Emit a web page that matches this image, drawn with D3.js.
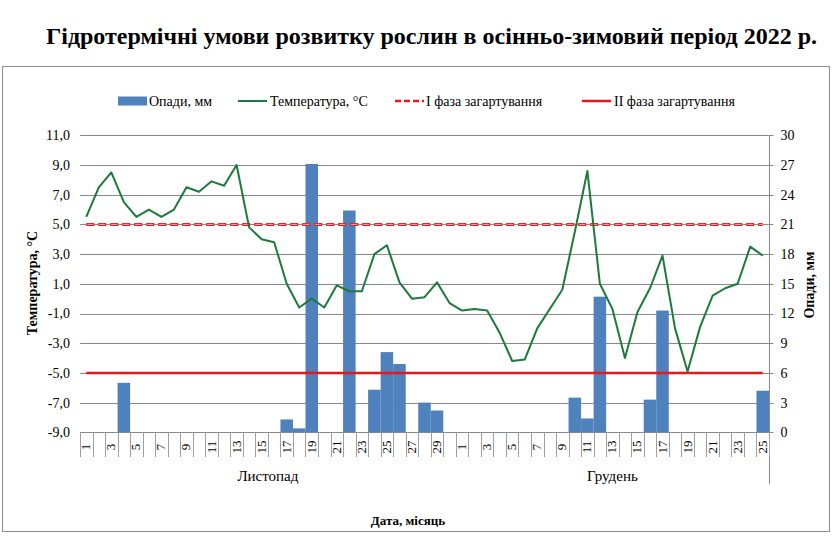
<!DOCTYPE html>
<html>
<head>
<meta charset="utf-8">
<script src="https://cdn.jsdelivr.net/npm/d3@7"></script>
<style>
  html, body { margin: 0; padding: 0; background: #fff; }
  svg, svg text { font-family: "Liberation Serif", "Times New Roman", Tinos, "DejaVu Serif", serif; }
</style>
</head>
<body>
<svg id="chart" width="836" height="540" font-family="Liberation Serif, Times New Roman, DejaVu Serif, serif"></svg>
<script>
// ---- data ----
const months = ["Листопад", "Грудень"];
const novDays = ["1","2","3","4","5","6","7","8","9","10","11","12","13","14","15","16","17","18","19","20","21","22","23","24","25","26","27","28","29","30"];
const decDays = ["1","2","3","4","5","6","7","8","9","10","11","12","13","14","15","16","17","18","19","20","21","22","23","24","25"];
const temperature = [5.5, 7.5, 8.5, 6.5, 5.5, 6.0, 5.5, 6.0, 7.5, 7.2,
                     7.9, 7.6, 9.0, 4.8, 4.0, 3.8, 1.0, -0.6, 0.0, -0.6,
                     0.9, 0.5, 0.5, 3.0, 3.6, 1.1, 0.0, 0.1, 1.1, -0.3,
                     -0.8, -0.7, -0.8, -2.3, -4.2, -4.1, -2.0, -0.7, 0.6, 4.5,
                     8.6, 1.0, -0.7, -4.0, -0.9, 0.7, 2.9, -2.0, -4.9, -1.9,
                     0.2, 0.7, 1.0, 3.5, 2.9];
const precipitation = [0, 0, 0, 5.0, 0, 0, 0, 0, 0, 0,
                       0, 0, 0, 0, 0, 0, 1.3, 0.4, 27.1, 0,
                       0, 22.4, 0, 4.3, 8.1, 6.9, 0, 3.0, 2.2, 0,
                       0, 0, 0, 0, 0, 0, 0, 0, 0, 3.5,
                       1.4, 13.7, 0, 0, 0, 3.3, 12.3, 0, 0, 0,
                       0, 0, 0, 0, 4.2];
const phase1 = 5;    // І фаза загартування, °C
const phase2 = -5;   // ІІ фаза загартування, °C
const tempTicks = [-9, -7, -5, -3, -1, 1, 3, 5, 7, 9, 11];
const precTicks = [0, 3, 6, 9, 12, 15, 18, 21, 24, 27, 30];
const legendLabels = ["Опади, мм", "Температура, °С", "І фаза загартування", "ІІ фаза загартування"];

// ---- layout ----
const svg = d3.select("#chart");
const FONT = "'Liberation Serif', 'Times New Roman', 'DejaVu Serif', serif";
const L = 80, R = 769, T = 135.3, B = 432.3;
const BLUE = "#4F81BD", GREEN = "#1C7A3C", RED = "#E4191C";

const labels = novDays.map(d => ({m: 0, d})).concat(decDays.map(d => ({m: 1, d})));
const idx = d3.range(labels.length);

const x = d3.scaleBand().domain(idx).range([L, R]).padding(0);
const yT = d3.scaleLinear().domain([-9, 11]).range([B, T]);
const yP = d3.scaleLinear().domain([0, 30]).range([B, T]);

// frame
svg.append("rect").attr("x", 2.5).attr("y", 66.5).attr("width", 827).attr("height", 465)
  .attr("fill", "none").attr("stroke", "#8c8c8c").attr("stroke-width", 1);

// title
svg.append("text").attr("x", 431.5).attr("y", 44).attr("text-anchor", "middle")
  .attr("font-size", 24).attr("font-weight", "bold").attr("fill", "#000")
  .text("Гідротермічні умови розвитку рослин в осінньо-зимовий період 2022 р.");

// gridlines
svg.append("g").selectAll("line").data(tempTicks).join("line")
  .attr("x1", L).attr("x2", R)
  .attr("y1", d => Math.round(yT(d)) + 0.5).attr("y2", d => Math.round(yT(d)) + 0.5)
  .attr("stroke", "#8a8a8a").attr("stroke-width", 1);

// left axis labels
svg.append("g").selectAll("text").data(tempTicks).join("text")
  .attr("x", 70).attr("y", d => yT(d)).attr("dy", "0.35em").attr("text-anchor", "end")
  .attr("font-size", 14).text(d => d3.format(".1f")(d).replace(".", ",").replace("−", "-"));

// right axis
const rg = svg.append("g").attr("transform", `translate(${R + 0.5},0)`);
rg.append("line").attr("y1", T).attr("y2", B).attr("stroke", "#8a8a8a");
rg.selectAll("line.tk").data(precTicks).join("line").attr("class", "tk")
  .attr("x1", 0).attr("x2", 4).attr("y1", d => Math.round(yP(d)) + 0.5).attr("y2", d => Math.round(yP(d)) + 0.5)
  .attr("stroke", "#8a8a8a");
rg.selectAll("text").data(precTicks).join("text")
  .attr("x", 11).attr("y", d => yP(d)).attr("dy", "0.35em").attr("font-size", 14).text(d => d);
svg.append("line").attr("x1", R + 0.5).attr("x2", R + 0.5).attr("y1", B).attr("y2", 484)
  .attr("stroke", "#8a8a8a");

// x tick marks at category boundaries
const bounds = d3.range(labels.length + 1).map(i => L + i * x.bandwidth());
svg.append("g").selectAll("line").data(bounds).join("line")
  .attr("x1", d => Math.round(d) + 0.5).attr("x2", d => Math.round(d) + 0.5)
  .attr("y1", B).attr("y2", 457).attr("stroke", "#a0a0a0").attr("stroke-width", 1);

// x tick labels (every other)
svg.append("g").selectAll("text").data(idx.filter(i => i % 2 === 0)).join("text")
  .attr("transform", i => `translate(${x(i) + x.bandwidth() / 2 + 4},447) rotate(-90)`)
  .attr("text-anchor", "middle").attr("font-size", 13).text(i => labels[i].d);

// month labels
const monthCenters = [
  (x(0) + x(novDays.length - 1) + x.bandwidth()) / 2,
  (x(novDays.length) + x(labels.length - 1) + x.bandwidth()) / 2
];
svg.append("g").selectAll("text").data(months).join("text")
  .attr("x", (d, i) => monthCenters[i]).attr("y", 481).attr("text-anchor", "middle")
  .attr("font-size", 15).text(d => d);

// axis titles
svg.append("text").attr("transform", "translate(37,283) rotate(-90)").attr("text-anchor", "middle")
  .attr("font-size", 14).attr("font-weight", "bold").text("Температура, °С");
svg.append("text").attr("transform", "translate(814,285) rotate(-90)").attr("text-anchor", "middle")
  .attr("font-size", 14).attr("font-weight", "bold").text("Опади, мм");
svg.append("text").attr("x", 408).attr("y", 525).attr("text-anchor", "middle")
  .attr("font-size", 13).attr("font-weight", "bold").text("Дата, місяць");

// bars
svg.append("g").selectAll("rect").data(idx.filter(i => precipitation[i] > 0)).join("rect")
  .attr("x", i => x(i)).attr("width", x.bandwidth())
  .attr("y", i => yP(precipitation[i])).attr("height", i => yP(0) - yP(precipitation[i]))
  .attr("fill", BLUE);

// threshold lines
const cx = i => x(i) + x.bandwidth() / 2;
const first = 0, last = labels.length - 1;
svg.append("line").attr("x1", cx(first)).attr("x2", cx(last))
  .attr("y1", yT(phase1)).attr("y2", yT(phase1))
  .attr("stroke", RED).attr("stroke-width", 3).attr("stroke-dasharray", "8,4");
svg.append("line").attr("x1", cx(first)).attr("x2", cx(last))
  .attr("y1", yT(phase1)).attr("y2", yT(phase1))
  .attr("stroke", "#f6b0b0").attr("stroke-width", 1).attr("stroke-dasharray", "6,6").attr("stroke-dashoffset", -1);
svg.append("line").attr("x1", cx(first)).attr("x2", cx(last))
  .attr("y1", yT(phase2)).attr("y2", yT(phase2))
  .attr("stroke", RED).attr("stroke-width", 2.5);

// temperature line
svg.append("path").datum(idx)
  .attr("d", d3.line().x(i => cx(i)).y(i => yT(temperature[i])))
  .attr("fill", "none").attr("stroke", GREEN).attr("stroke-width", 2).attr("stroke-linejoin", "round");

// legend
const lg = svg.append("g").attr("font-size", 14);
const ly = 101;
lg.append("rect").attr("x", 118).attr("y", ly - 4.5).attr("width", 29).attr("height", 9).attr("fill", BLUE);
lg.append("text").attr("x", 149).attr("y", ly).attr("dy", "0.35em").text(legendLabels[0]);
lg.append("line").attr("x1", 238).attr("x2", 267).attr("y1", ly).attr("y2", ly).attr("stroke", GREEN).attr("stroke-width", 2);
lg.append("text").attr("x", 270).attr("y", ly).attr("dy", "0.35em").text(legendLabels[1]);
lg.append("line").attr("x1", 395).attr("x2", 424).attr("y1", ly).attr("y2", ly).attr("stroke", RED).attr("stroke-width", 2.5).attr("stroke-dasharray", "6,3");
lg.append("text").attr("x", 426).attr("y", ly).attr("dy", "0.35em").text(legendLabels[2]);
lg.append("line").attr("x1", 582).attr("x2", 611).attr("y1", ly).attr("y2", ly).attr("stroke", RED).attr("stroke-width", 2.5);
lg.append("text").attr("x", 614).attr("y", ly).attr("dy", "0.35em").text(legendLabels[3]);

svg.selectAll("text").attr("font-family", FONT);
</script>
</body>
</html>
